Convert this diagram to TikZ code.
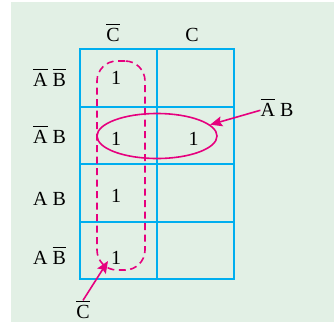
\documentclass[tikz,border=0pt]{standalone}
\usepackage{fontspec}
\setmainfont{Liberation Serif}
\usetikzlibrary{shapes.geometric, arrows.meta}

\definecolor{mapbg}{HTML}{E2F0E5}
\definecolor{mapblue}{HTML}{00AEEF}
\definecolor{mappink}{HTML}{E6007E}
% complemented variable: bar over the letter
\newcommand{\cmpl}[1]{\vbox{\hrule height 1.6pt \kern 2.6pt \hbox{#1}}}

\begin{document}
\begin{tikzpicture}[
  x=1pt, y=-1pt,
  txt/.style      = {font=\fontsize{20}{24}\selectfont, inner sep=0pt, anchor=base},
  cellline/.style = {draw=mapblue, line width=2pt},
  grp/.style      = {draw=mappink, line width=1.6pt},
  arr/.style      = {-{Stealth[length=12pt, width=10pt, inset=2pt]}, draw=mappink, line width=1.6pt},
]

% ---- page and background ----------------------------------------------------
\useasboundingbox (0,0) rectangle (334,322);
\fill[mapbg] (11,2) rectangle (334,322);

% ---- map grid ---------------------------------------------------------------
\foreach \x in {80,157,234}
  \draw[cellline] (\x,49) -- (\x,279);
\foreach \y in {49,106.5,164,221.5,279}
  \draw[cellline] (79,\y) -- (235,\y);

% ---- column and row headings ------------------------------------------------
\node[txt] (colNC) at (113,41) {\cmpl{C}};
\node[txt] (colC)  at (192,41) {C};

\node[txt] (rowNANB) at (49.5,86)  {\cmpl{A} \cmpl{B}};
\node[txt] (rowNAB)  at (49.5,143) {\cmpl{A} B};
\node[txt] (rowAB)   at (49.5,205) {A B};
\node[txt] (rowANB)  at (49.5,264) {A \cmpl{B}};

% ---- cell entries -----------------------------------------------------------
\node[txt] (one00) at (116,84)  {1};
\node[txt] (one10) at (116,145) {1};
\node[txt] (one11) at (193.5,145) {1};
\node[txt] (one20) at (116,202) {1};
\node[txt] (one30) at (116,264) {1};

% ---- groups -----------------------------------------------------------------
\node[grp, dashed, dash pattern=on 7pt off 4.5pt, rounded corners=20pt,
      minimum width=48pt, minimum height=209pt] (grpC) at (121,165.5) {};
\node[grp, ellipse, minimum width=120pt, minimum height=45pt] (grpAB) at (157,136) {};

% ---- group labels and pointers ----------------------------------------------
\node[txt] (labAB) at (277,116) {\cmpl{A} B};
\node[txt] (labC)  at (83,318)  {\cmpl{C}};
\coordinate (tipC) at (108,261);

\draw[arr] (labAB.190) -- (grpAB.12);
\draw[arr] (labC.north) -- (tipC);

\end{tikzpicture}
\end{document}
